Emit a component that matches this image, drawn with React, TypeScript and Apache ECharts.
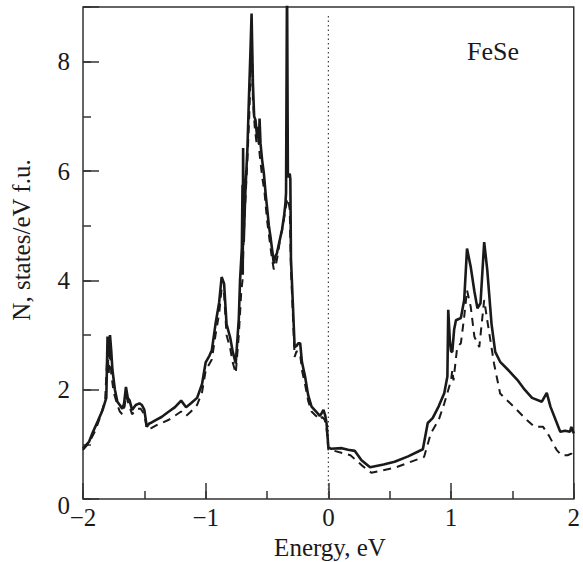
import React, { useEffect, useRef } from "react";
import * as echarts from "echarts";

const solidE = [-2.0,-1.95,-1.92,-1.88,-1.84,-1.81,-1.8,-1.785,-1.78,-1.77,-1.76,-1.74,-1.72,-1.7,-1.68,-1.665,-1.65,-1.635,-1.62,-1.6,-1.57,-1.54,-1.52,-1.5,-1.48,-1.46,-1.44,-1.4,-1.36,-1.3,-1.25,-1.2,-1.16,-1.12,-1.07,-1.03,-1.0,-0.97,-0.95,-0.92,-0.89,-0.87,-0.85,-0.83,-0.8,-0.78,-0.755,-0.73,-0.72,-0.705,-0.7,-0.698,-0.695,-0.69,-0.68,-0.675,-0.66,-0.648,-0.635,-0.626,-0.615,-0.605,-0.594,-0.58,-0.575,-0.565,-0.561,-0.553,-0.54,-0.526,-0.51,-0.5,-0.485,-0.472,-0.455,-0.445,-0.43,-0.42,-0.4,-0.378,-0.36,-0.35,-0.345,-0.337,-0.333,-0.33,-0.315,-0.31,-0.305,-0.29,-0.275,-0.26,-0.245,-0.23,-0.215,-0.19,-0.165,-0.137,-0.1,-0.07,-0.055,-0.04,-0.025,-0.015,0.0,0.02,0.11,0.16,0.216,0.27,0.34,0.45,0.54,0.65,0.77,0.81,0.85,0.9,0.945,0.97,0.977,0.99,1.0,1.01,1.025,1.04,1.08,1.107,1.13,1.16,1.19,1.215,1.24,1.27,1.295,1.33,1.36,1.4,1.47,1.54,1.6,1.66,1.74,1.78,1.81,1.89,1.93,1.97,1.98,2.0];
const solidN = [0.92,1.05,1.22,1.42,1.63,1.85,2.97,2.6,3.0,2.72,2.36,2.0,1.78,1.72,1.65,1.75,2.05,1.85,1.8,1.63,1.72,1.75,1.72,1.63,1.32,1.38,1.4,1.45,1.5,1.6,1.68,1.8,1.68,1.75,1.85,2.1,2.5,2.62,2.72,3.2,3.6,4.06,3.94,3.2,2.95,2.7,2.48,3.3,4.0,4.6,5.75,4.1,6.42,4.7,5.4,5.7,6.4,7.3,8.2,8.88,7.6,7.0,6.93,6.6,6.81,6.5,6.96,6.5,6.2,5.96,5.55,5.34,5.0,4.8,4.5,4.31,4.45,4.49,4.7,4.92,5.2,5.41,5.6,9.6,9.6,5.89,5.95,5.85,4.4,3.6,2.78,2.8,2.85,2.85,2.5,2.24,1.9,1.69,1.6,1.52,1.57,1.63,1.52,1.39,0.95,0.92,0.93,0.9,0.88,0.71,0.58,0.63,0.68,0.78,0.91,1.39,1.48,1.7,1.94,2.24,3.46,2.9,2.7,2.69,3.1,3.27,3.31,3.64,4.58,4.25,3.8,3.49,3.58,4.7,4.19,3.2,2.69,2.51,2.35,2.18,2.0,1.85,1.78,1.94,1.69,1.23,1.25,1.23,1.32,1.2];

const dashE = [-2.0,-1.95,-1.9,-1.86,-1.82,-1.8,-1.79,-1.78,-1.77,-1.75,-1.72,-1.7,-1.68,-1.66,-1.65,-1.63,-1.6,-1.56,-1.53,-1.5,-1.48,-1.44,-1.4,-1.3,-1.2,-1.16,-1.12,-1.07,-1.03,-1.0,-0.95,-0.92,-0.89,-0.87,-0.85,-0.83,-0.8,-0.78,-0.755,-0.73,-0.71,-0.7,-0.69,-0.68,-0.66,-0.645,-0.63,-0.626,-0.615,-0.6,-0.585,-0.57,-0.56,-0.54,-0.52,-0.5,-0.48,-0.46,-0.445,-0.43,-0.41,-0.39,-0.37,-0.35,-0.338,-0.33,-0.315,-0.305,-0.29,-0.275,-0.26,-0.245,-0.23,-0.215,-0.19,-0.165,-0.137,-0.1,-0.07,-0.05,-0.03,-0.015,0.0,0.05,0.18,0.27,0.35,0.54,0.78,0.835,0.9,0.945,1.0,1.01,1.02,1.05,1.08,1.107,1.13,1.16,1.19,1.23,1.27,1.295,1.35,1.4,1.51,1.62,1.68,1.75,1.8,1.86,1.9,1.95,1.98,2.0];
const dashN = [0.9,1.03,1.25,1.5,1.8,2.7,2.3,2.75,2.3,1.95,1.72,1.6,1.55,1.7,1.9,1.75,1.55,1.65,1.65,1.55,1.28,1.3,1.35,1.45,1.6,1.52,1.6,1.72,1.95,2.35,2.55,3.0,3.4,3.85,3.75,3.0,2.75,2.5,2.3,3.0,3.8,4.0,4.8,5.3,6.2,7.0,8.0,8.6,7.3,6.8,6.5,6.6,6.3,5.9,5.6,5.1,4.75,4.4,4.2,4.25,4.5,4.8,5.0,5.3,5.45,5.5,5.3,4.2,3.4,2.6,2.7,2.7,2.65,2.35,2.1,1.8,1.6,1.52,1.45,1.5,1.45,1.3,0.9,0.88,0.8,0.62,0.48,0.57,0.77,1.2,1.45,1.75,2.17,2.36,2.17,2.78,2.85,3.33,3.82,3.52,2.97,2.78,3.64,3.27,2.48,1.93,1.69,1.44,1.32,1.32,1.15,0.9,0.8,0.8,0.83,0.78];

const fermiLine = [[0, 0], [0, 8.85]];
const xMajorTicks = { min: -2, max: 2, interval: 1 };
const xMinorTicks = { min: -2, max: 2, interval: 0.5 };
const yMajorTicks = { min: 0, max: 9, interval: 2 };
const yMinorTicks = { min: 0, max: 9, interval: 1 };

const FONT = "Liberation Serif";
const INK = "#1a1a1a";

const fmt = (v: number) => (v < 0 ? "\u2212" + Math.abs(v) : String(v));

export default function App() {
  const ref = useRef<HTMLDivElement>(null);
  useEffect(() => {
    if (!ref.current) return;
    const chart = echarts.init(ref.current, undefined, { renderer: "svg" });
    const zip = (a: number[], b: number[]) => a.map((x, i) => [x, b[i]]);
    const tickStyle = { color: "#333", width: 1.5 };
    chart.setOption({
      animation: false,
      backgroundColor: "#fff",
      grid: {
        left: 83, right: 6, top: 7, bottom: 63,
        show: true, borderColor: "#333", borderWidth: 1.5, backgroundColor: "transparent",
      },
      xAxis: [
        {
          type: "value", ...xMajorTicks, position: "bottom",
          axisLine: { show: false, onZero: false },
          splitLine: { show: false },
          axisTick: { show: true, inside: true, length: 16, lineStyle: tickStyle },
          axisLabel: { formatter: fmt, fontFamily: FONT, fontSize: 25, color: INK, margin: 6 },
        },
        {
          type: "value", ...xMinorTicks, position: "bottom",
          axisLine: { show: false, onZero: false },
          splitLine: { show: false },
          axisTick: { show: true, inside: true, length: 8, lineStyle: tickStyle },
          axisLabel: { show: false },
        },
      ],
      yAxis: [
        {
          type: "value", ...yMajorTicks, position: "left",
          axisLine: { show: false, onZero: false },
          splitLine: { show: false },
          axisTick: { show: true, inside: true, length: 16, lineStyle: tickStyle },
          axisLabel: {
            formatter: (v: number) => (v === 0 ? "{z|0}" : v % 2 === 0 ? fmt(v) : ""),
            fontFamily: FONT, fontSize: 25, color: INK, margin: 13,
            rich: { z: { fontFamily: FONT, fontSize: 25, color: INK, padding: [12, 0, 0, 0] } },
          },
        },
        {
          type: "value", ...yMinorTicks, position: "left",
          axisLine: { show: false, onZero: false },
          splitLine: { show: false },
          axisTick: { show: true, inside: true, length: 8, lineStyle: tickStyle },
          axisLabel: { show: false },
        },
      ],
      series: [
        {
          type: "line", name: "fermi", data: fermiLine, showSymbol: false, silent: true,
          lineStyle: { color: "#444", width: 1.2, type: [1.5, 3] },
        },
        {
          type: "line", name: "dashed", data: zip(dashE, dashN), showSymbol: false, clip: true,
          lineStyle: { color: INK, width: 2, type: [8, 6] },
        },
        {
          type: "line", name: "solid", data: zip(solidE, solidN), showSymbol: false, clip: true,
          lineStyle: { color: INK, width: 2.6 },
        },
      ],
      graphic: [
        {
          type: "text", x: 467, y: 51,
          style: { text: "FeSe", fontFamily: FONT, fontSize: 26, fill: INK, textAlign: "left", textVerticalAlign: "middle" },
        },
        {
          type: "text", x: 330, y: 547,
          style: { text: "Energy, eV", fontFamily: FONT, fontSize: 25, fill: INK, textAlign: "center", textVerticalAlign: "middle" },
        },
        {
          type: "text", x: 21, y: 240, rotation: Math.PI / 2,
          style: { text: "N, states/eV f.u.", fontFamily: FONT, fontSize: 25, fill: INK, textAlign: "center", textVerticalAlign: "middle" },
        },
      ],
    });
    return () => chart.dispose();
  }, []);
  return (
    <div
      ref={ref}
      style={{ position: "absolute", left: 0, top: 0, width: 583, height: 562 }}
    />
  );
}
